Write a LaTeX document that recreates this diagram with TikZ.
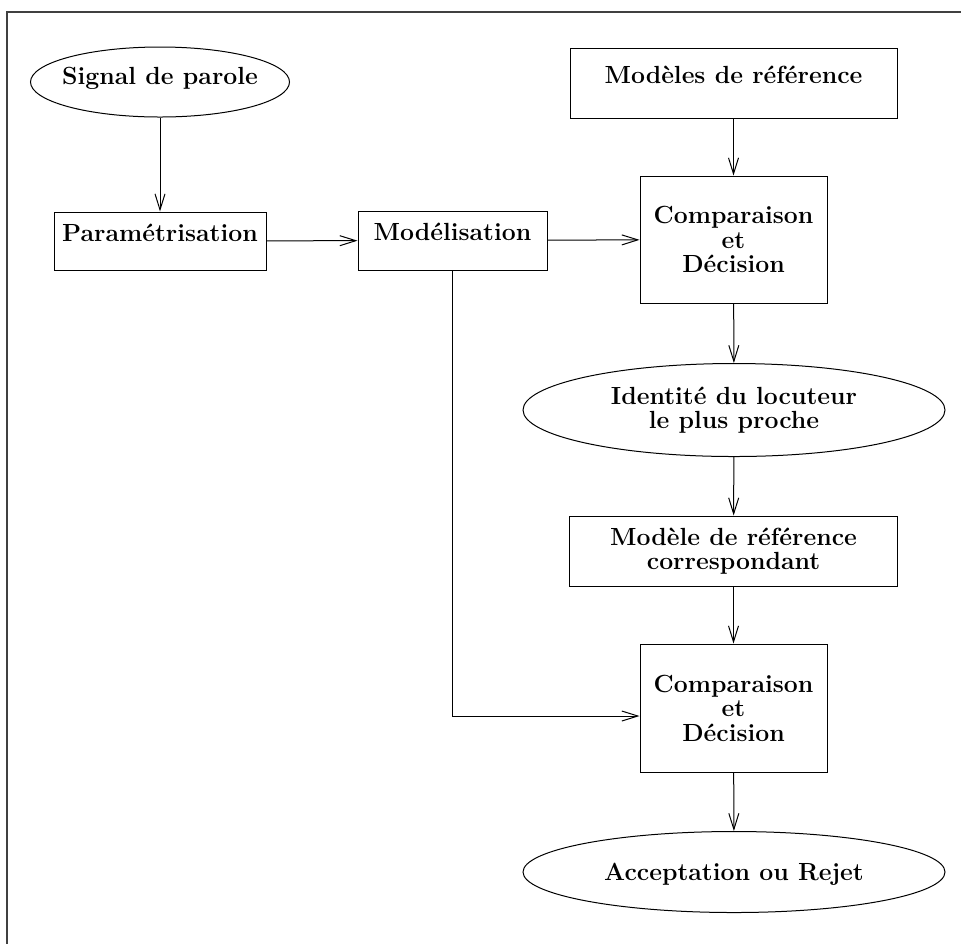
\documentclass[tikz,border=0pt]{standalone}
\usetikzlibrary{shapes.geometric,arrows.meta}
\begin{document}
\begin{tikzpicture}[x=0.5pt,y=-0.5pt,
  every node/.style={font=\fontsize{12.4}{12.3}\selectfont\bfseries, align=center, line width=0.5pt},
  box/.style={draw, rectangle, inner sep=0pt},
  oval/.style={draw, ellipse, inner sep=0pt},
  onel/.style={text height=8.5pt, text depth=8.5pt},
  arr/.style={-{Straight Barb[length=8pt,width=5pt]}, line width=0.5pt}]
\useasboundingbox (0,0) rectangle (961,944);
\draw[line width=0.6pt, black!75] (961,12) -- (7,12) -- (7,944);

\node[oval, inner xsep=-3.4pt, minimum width=129.5pt, minimum height=35pt] (signal) at (160,82) {\raisebox{2pt}[\height][\depth]{Signal de parole}};
\node[box, onel, minimum width=106pt, minimum height=29pt] (param) at (160,241) {Paramétrisation};
\node[box, onel, minimum width=94.5pt, minimum height=29.5pt] (model) at (452.5,240.5) {Modélisation};
\node[box, onel, minimum width=163.5pt, minimum height=35pt] (refs) at (733.5,83) {Modèles de référence};
\node[box, minimum width=93.5pt, minimum height=63.5pt] (comp1) at (733.5,239.5) {Comparaison\\et\\Décision};
\node[oval, minimum width=211pt, minimum height=46.5pt] (ident) at (734,410) {Identité du locuteur\\le plus proche};
\node[box, minimum width=164pt, minimum height=35pt] (corr) at (733.5,551) {Modèle de référence\\correspondant};
\node[box, minimum width=93.5pt, minimum height=64pt] (comp2) at (733.5,708) {Comparaison\\et\\Décision};
\node[oval, minimum width=211pt, minimum height=40.5pt] (accept) at (734,872) {\raisebox{-1pt}[\height][\depth]{Acceptation ou Rejet}};
\coordinate (c2in) at ([yshift=-4pt]comp2.west);

\draw[arr] (signal) -- (param);
\draw[arr] (param) -- (model);
\draw[arr] (model) -- (comp1);
\draw[arr] (refs) -- (comp1);
\draw[arr] (comp1) -- (ident);
\draw[arr] (ident) -- (corr);
\draw[arr] (corr) -- (comp2);
\draw[arr] (model.south) |- (c2in);
\draw[arr] (comp2) -- (accept);
\end{tikzpicture}
\end{document}
